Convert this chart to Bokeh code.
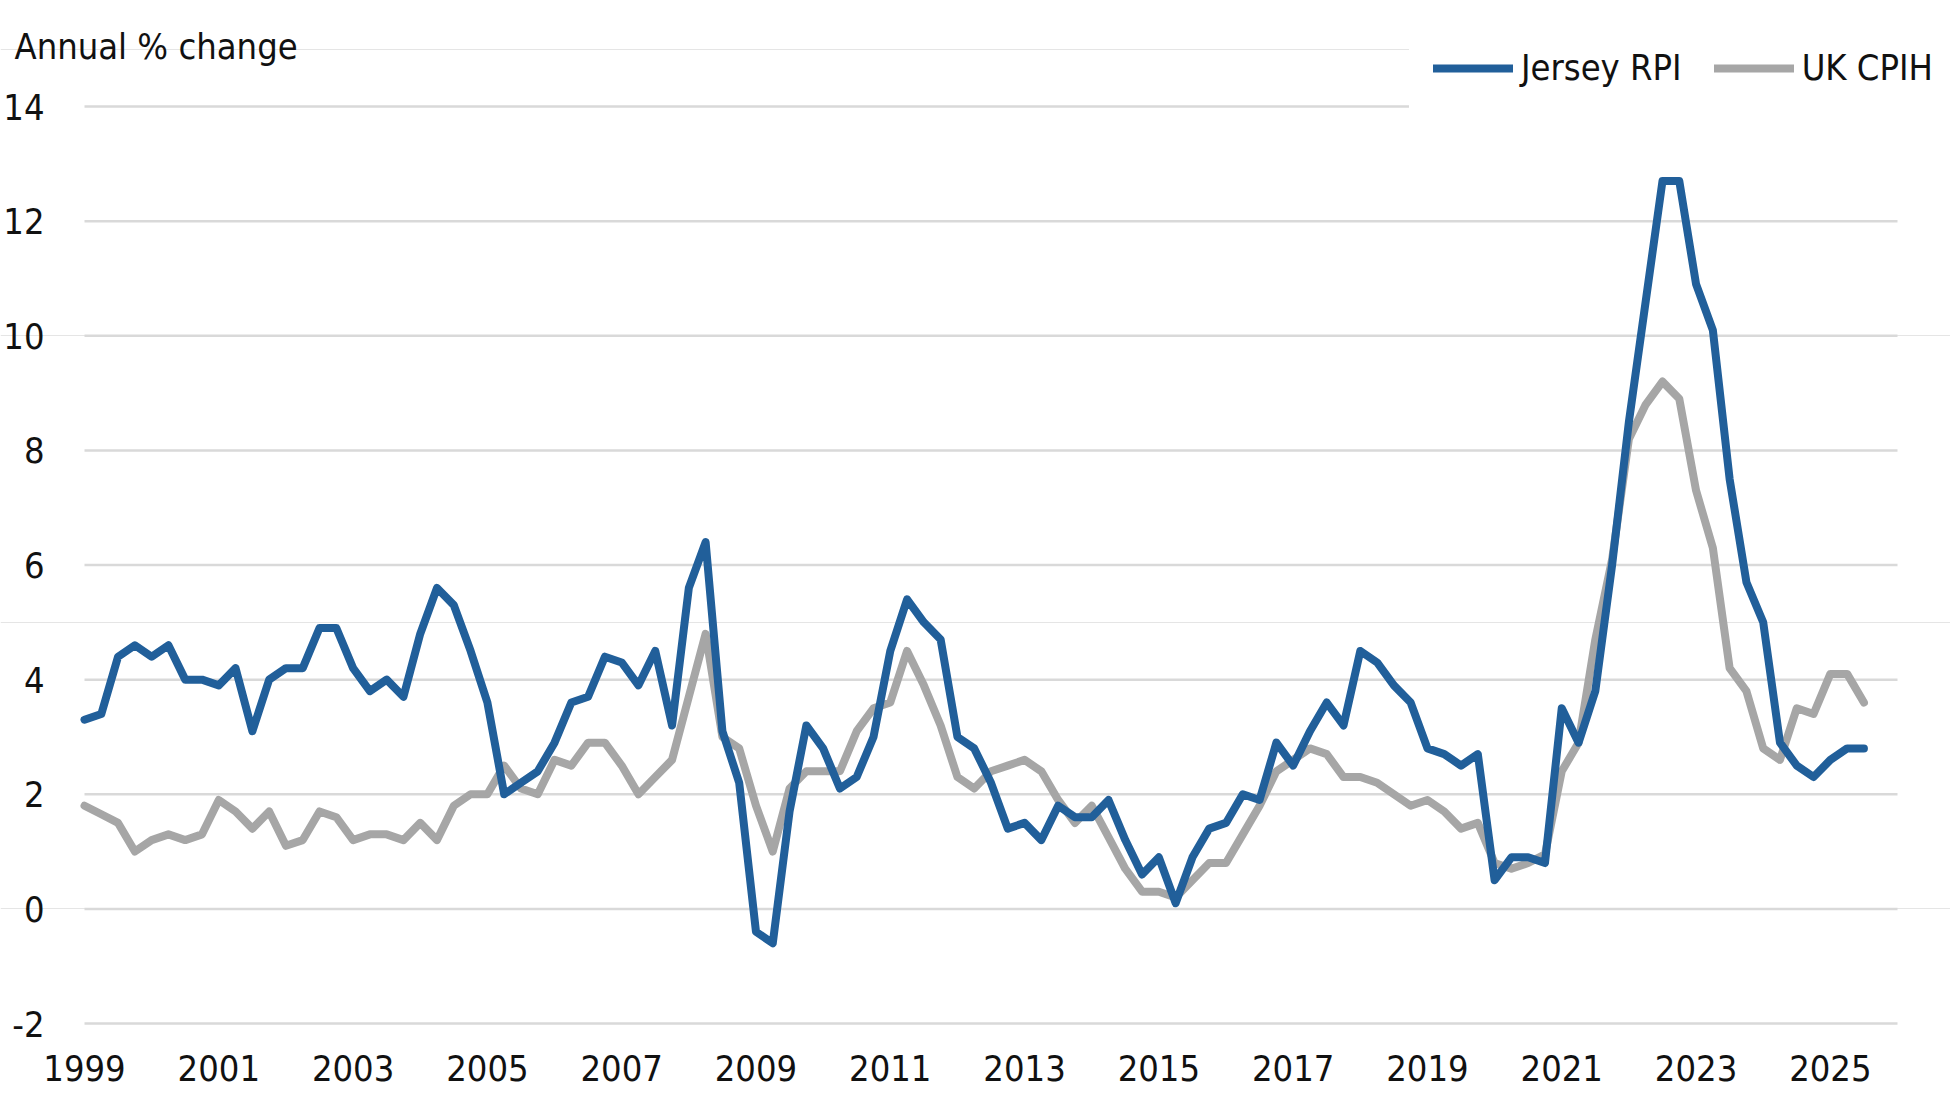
import numpy as np
from bokeh.plotting import figure
from bokeh.models import Range1d, FixedTicker, Legend, LegendItem, Label, ColumnDataSource
from bokeh.core.properties import value
from bokeh.embed import file_html
from bokeh.resources import INLINE

# ---------------- data (quarterly, first point at start of 1999) ----------------
start_year = 1999
quarter_step = 0.25

jersey_rpi = [
    3.3, 3.4, 4.4, 4.6, 4.4, 4.6, 4.0, 4.0, 3.9, 4.2, 3.1, 4.0, 4.2, 4.2, 4.9, 4.9,
    4.2, 3.8, 4.0, 3.7, 4.8, 5.6, 5.3, 4.5, 3.6, 2.0, 2.2, 2.4, 2.9, 3.6, 3.7, 4.4,
    4.3, 3.9, 4.5, 3.2, 5.6, 6.4, 3.1, 2.2, -0.4, -0.6, 1.7, 3.2, 2.8, 2.1, 2.3, 3.0,
    4.5, 5.4, 5.0, 4.7, 3.0, 2.8, 2.2, 1.4, 1.5, 1.2, 1.8, 1.6, 1.6, 1.9, 1.2, 0.6,
    0.9, 0.1, 0.9, 1.4, 1.5, 2.0, 1.9, 2.9, 2.5, 3.1, 3.6, 3.2, 4.5, 4.3, 3.9, 3.6,
    2.8, 2.7, 2.5, 2.7, 0.5, 0.9, 0.9, 0.8, 3.5, 2.9, 3.8, 6.0, 8.5, 10.6, 12.7, 12.7,
    10.9, 10.1, 7.5, 5.7, 5.0, 2.9, 2.5, 2.3, 2.6, 2.8, 2.8,
]

uk_cpih = [
    1.8, 1.65, 1.5, 1.0, 1.2, 1.3, 1.2, 1.3, 1.9, 1.7, 1.4, 1.7, 1.1, 1.2, 1.7, 1.6,
    1.2, 1.3, 1.3, 1.2, 1.5, 1.2, 1.8, 2.0, 2.0, 2.5, 2.1, 2.0, 2.6, 2.5, 2.9, 2.9,
    2.5, 2.0, 2.3, 2.6, 3.7, 4.8, 3.0, 2.8, 1.8, 1.0, 2.1, 2.4, 2.4, 2.4, 3.1, 3.5,
    3.6, 4.5, 3.9, 3.2, 2.3, 2.1, 2.4, 2.5, 2.6, 2.4, 1.9, 1.5, 1.8, 1.25, 0.7, 0.3,
    0.3, 0.2, 0.5, 0.8, 0.8, 1.3, 1.8, 2.4, 2.6, 2.8, 2.7, 2.3, 2.3, 2.2, 2.0, 1.8,
    1.9, 1.7, 1.4, 1.5, 0.8, 0.7, 0.8, 0.95, 2.4, 2.9, 4.7, 6.1, 8.2, 8.8, 9.2, 8.9,
    7.3, 6.3, 4.2, 3.8, 2.8, 2.6, 3.5, 3.4, 4.1, 4.1, 3.6,
]

series_names = ["Jersey RPI", "UK CPIH"]
series_colors = ["#215f9a", "#a6a6a6"]

x_tick_years = [1999, 2001, 2003, 2005, 2007, 2009, 2011, 2013, 2015, 2017, 2019, 2021, 2023, 2025]
x_tick_labels = ["1999", "2001", "2003", "2005", "2007", "2009", "2011", "2013",
                 "2015", "2017", "2019", "2021", "2023", "2025"]
y_ticks = [-2, 0, 2, 4, 6, 8, 10, 12, 14]
y_tick_labels = ["-2", "0", "2", "4", "6", "8", "10", "12", "14"]
y_axis_title = "Annual % change"

# plot-area value limits
area_x0, area_x1 = 1999.0, 2026.0
area_y0, area_y1 = -2.0, 14.0

# ---------------- layout ----------------
FONT = "'DejaVu Sans Condensed', 'Liberation Sans Narrow', sans-serif"
FS = "36px"
TEXT = "#111111"

W, H = 1950, 1105
AREA_LEFT, AREA_RIGHT = 84, 1897      # pixel extent of the plot area
AREA_TOP, AREA_BOTTOM = 106, 1023
FRAME_BOTTOM = 1048
X_AXIS_H = H - FRAME_BOTTOM
frame_h = FRAME_BOTTOM
ppx = (AREA_RIGHT - AREA_LEFT) / (area_x1 - area_x0)
ppy = (AREA_BOTTOM - AREA_TOP) / (area_y1 - area_y0)

x_range = Range1d(area_x0 - AREA_LEFT / ppx, area_x1 + (W - AREA_RIGHT) / ppx)
y_range = Range1d(area_y0 - (FRAME_BOTTOM - AREA_BOTTOM) / ppy, area_y1 + AREA_TOP / ppy)

p = figure(width=W, height=H, output_backend="svg", toolbar_location=None,
           x_range=x_range, y_range=y_range, y_axis_location=None,
           min_border_left=0, min_border_right=0, min_border_top=0,
           min_border_bottom=X_AXIS_H)
p.outline_line_color = None
p.background_fill_color = "white"
p.border_fill_color = "white"
p.xgrid.visible = False

# horizontal gridlines spanning the plot area only
grid_src = ColumnDataSource(dict(x0=[area_x0] * len(y_ticks), x1=[area_x1] * len(y_ticks),
                                 y=y_ticks))
p.segment(x0="x0", x1="x1", y0="y", y1="y", source=grid_src,
          line_color="#d9d9d9", line_width=2.5)

x = start_year + quarter_step * np.arange(len(jersey_rpi))
r2 = p.line(x, uk_cpih, line_color=series_colors[1], line_width=8,
            line_join="round", line_cap="round")
r1 = p.line(x, jersey_rpi, line_color=series_colors[0], line_width=8,
            line_join="round", line_cap="round")

# x axis
p.xaxis.ticker = FixedTicker(ticks=x_tick_years)
p.xaxis.major_label_overrides = {t: l for t, l in zip(x_tick_years, x_tick_labels)}
p.xaxis.axis_line_color = None
p.xaxis.major_tick_line_color = None
p.xaxis.minor_tick_line_color = None
p.xaxis.major_tick_out = 0
p.xaxis.major_tick_in = 0
p.xaxis.major_label_standoff = 6
p.xaxis.major_label_text_font = FONT
p.xaxis.major_label_text_font_size = FS
p.xaxis.major_label_text_color = TEXT

# y tick labels, right-aligned left of the plot area
ylab_src = ColumnDataSource(dict(x=[area_x0] * len(y_ticks), y=y_ticks, t=y_tick_labels))
p.text(x="x", y="y", text="t", source=ylab_src, x_offset=-40,
       text_align="right", text_baseline="middle",
       text_font=value(FONT), text_font_size=value(FS), text_color=TEXT)

# axis title at the top-left
title_label = Label(x=area_x0 + (14 - AREA_LEFT) / ppx,
                    y=area_y1 + (AREA_TOP - 46) / ppy,
                    text=y_axis_title, text_font=FONT, text_font_size=FS,
                    text_color=TEXT, text_align="left", text_baseline="alphabetic")
p.add_layout(title_label)

legend = Legend(items=[LegendItem(label=series_names[0], renderers=[r1]),
                       LegendItem(label=series_names[1], renderers=[r2])],
                orientation="horizontal", location=(1409, frame_h - 112),
                padding=24, spacing=32, margin=0,
                glyph_width=80, glyph_height=40, label_standoff=8,
                label_text_font=FONT, label_text_font_size=FS,
                label_text_color=TEXT,
                background_fill_color="white", background_fill_alpha=1.0,
                border_line_alpha=0)
p.add_layout(legend, "center")

open("out.html", "w").write(file_html(p, INLINE))
